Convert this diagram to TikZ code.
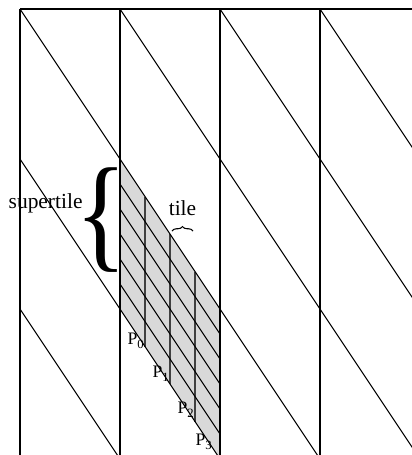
\documentclass[tikz,border=0pt]{standalone}
\usepackage{fontspec}
\setmainfont{Liberation Serif}
\usepackage{graphicx}
\usetikzlibrary{decorations.pathreplacing}
\newcommand{\Psub}[1]{P\raisebox{-0.5ex}{\fontsize{3.6}{4}\selectfont #1}}

\begin{document}
\begin{tikzpicture}[x=1cm, y=1cm,
    line/.style={line width=0.3pt},
    cell/.style={line width=0.45pt, black!75},
    lbl/.style={inner sep=0pt, font=\fontsize{6.1}{7}\selectfont},
    plbl/.style={inner sep=0pt, anchor=base west, font=\fontsize{5}{6}\selectfont}
  ]
  \useasboundingbox (0,0) rectangle (4.12,-4.55);
  \begin{scope}
    \clip (0,0) rectangle (4.12,-4.55);
    % shaded supertile
    \fill[black!15] (1.2,-1.59) -- (2.2,-3.09) -- (2.2,-4.59) -- (1.2,-3.09) -- cycle;
    % tiles inside it
    \foreach \x in {1.45,1.70,1.95}
      \draw[cell] (\x,{-1.59-1.5*(\x-1.2)}) -- ++(0,-1.5);
    \foreach \i in {1,...,5}
      \draw[line] (1.2,{-1.59-0.25*\i}) -- ++(1,-1.5);
    % columns
    \draw[line] (0.2,-0.09) -- (4.12,-0.09);
    \foreach \x in {0.2,1.2,2.2,3.2}
      \draw[line] (\x,-0.09) -- (\x,-4.55);
    % diagonals
    \foreach \x in {0.2,1.2,2.2,3.2}
      \draw[line] (\x,-0.09) -- ++(3,-4.5);
    \foreach \y in {-1.59,-3.09}
      \draw[line] (0.2,\y) -- ++(3,-4.5);
  \end{scope}

  % labels
  \node[lbl, anchor=base west] (super) at (0.08,-2.08) {supertile};
  \node[inner sep=0pt, font=\fontsize{36}{36}\selectfont] (bigbrace) at (1.0,-2.2) {\scalebox{0.85}[1]{\kern-0.09em\{\kern-0.12em}};
  \node[lbl, anchor=base] (tile) at (1.825,-2.15) {tile};
  \draw[line, decorate, decoration={brace, amplitude=0.045cm}] (1.72,-2.31) -- (1.93,-2.31);
  \node[plbl] (p0) at (1.27,-3.44) {\Psub{0}};
  \node[plbl] (p1) at (1.52,-3.77) {\Psub{1}};
  \node[plbl] (p2) at (1.77,-4.13) {\Psub{2}};
  \node[plbl] (p3) at (1.95,-4.45) {\Psub{3}};
\end{tikzpicture}
\end{document}
